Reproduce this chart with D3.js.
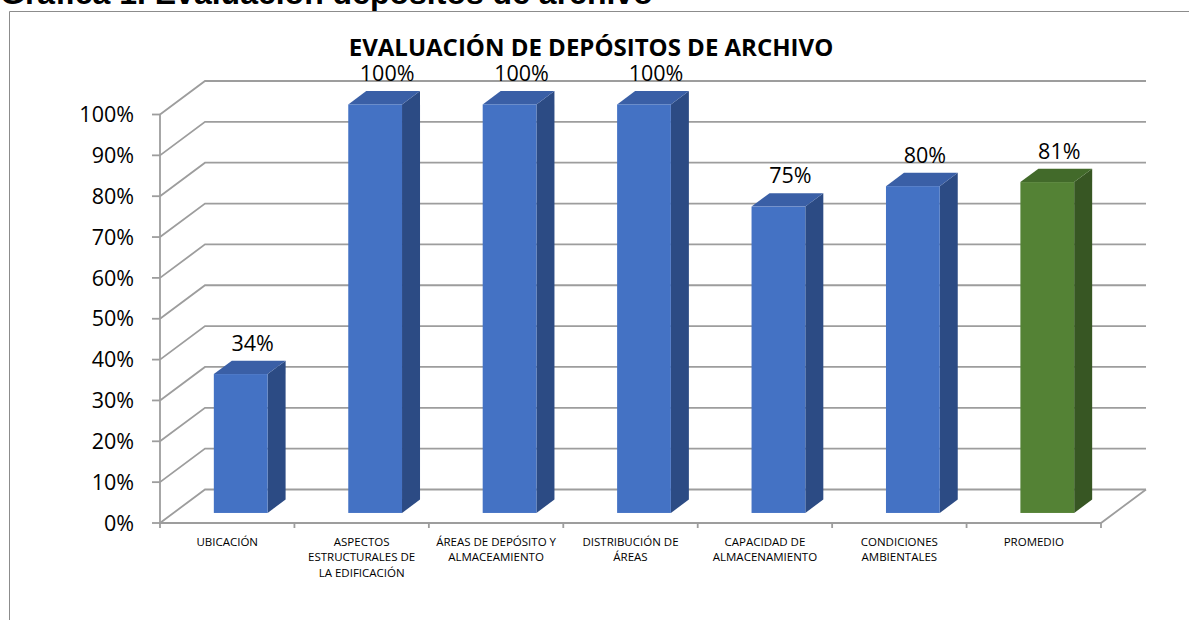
<!DOCTYPE html>
<html>
<head>
<meta charset="utf-8">
<script src="https://cdn.jsdelivr.net/npm/d3@7"></script>
<style>
  body { margin: 0; background: #fff; }
  svg { display: block; }
  text { font-family: "Open Sans", sans-serif; fill: #000; }
</style>
</head>
<body>
<div class="graphic__container"></div>
<script>
// datos
const categories = ['UBICACIÓN', 'ASPECTOS ESTRUCTURALES DE LA EDIFICACIÓN', 'ÁREAS DE DEPÓSITO Y ALMACEAMIENTO',
  'DISTRIBUCIÓN DE ÁREAS', 'CAPACIDAD DE ALMACENAMIENTO', 'CONDICIONES AMBIENTALES', 'PROMEDIO']
const categoryLines = [
  ['UBICACIÓN'],
  ['ASPECTOS', 'ESTRUCTURALES DE', 'LA EDIFICACIÓN'],
  ['ÁREAS DE DEPÓSITO Y', 'ALMACEAMIENTO'],
  ['DISTRIBUCIÓN DE', 'ÁREAS'],
  ['CAPACIDAD DE', 'ALMACENAMIENTO'],
  ['CONDICIONES', 'AMBIENTALES'],
  ['PROMEDIO']
]
const values = [0.34, 1.00, 1.00, 1.00, 0.75, 0.80, 0.81]
const yTicks = [0, 0.1, 0.2, 0.3, 0.4, 0.5, 0.6, 0.7, 0.8, 0.9, 1.0]

const width = 1189
const height = 620

// profundidad 3D
const depthX = 45
const depthY = -33.5
const barFront = 0.3
const barBack = 0.7

const blue = { front: '#4472C4', top: '#3A5FA6', side: '#2C4B84' }
const green = { front: '#548235', top: '#426A2A', side: '#375623' }
const gridColor = '#9d9d9d'

const svg = d3.select('.graphic__container')
  .append('svg')
  .attr('width', width)
  .attr('height', height)

// marco exterior y título del documento (cortado arriba)
svg.append('path')
  .attr('d', 'M9.5,640 L9.5,11.5 L1200,11.5')
  .attr('fill', 'none')
  .attr('stroke', '#8c8c8c')
  .attr('stroke-width', 1)

svg.append('text')
  .attr('x', 0)
  .attr('y', 4)
  .style('font-family', '"Liberation Sans", Arial, sans-serif')
  .style('font-weight', 'bold')
  .style('font-size', '32px')
  .text('Gráfica 1. Evaluación depósitos de archivo')

svg.append('text')
  .attr('x', 591)
  .attr('y', 56)
  .attr('text-anchor', 'middle')
  .style('font-weight', 'bold')
  .style('font-size', '24px')
  .text('EVALUACIÓN DE DEPÓSITOS DE ARCHIVO')

const x = d3.scaleBand()
  .domain(categories)
  .range([160, 1101])
  .paddingInner(0.6)
  .paddingOuter(0.3)

const y = d3.scaleLinear()
  .domain([0, 1])
  .range([523, 114.5])

const x0 = x.range()[0]
const x1 = x.range()[1]
const y0 = y(0)

const grid = svg.append('g').attr('class', 'grid')
  .attr('fill', 'none')
  .attr('stroke', gridColor)
  .attr('stroke-width', 1.8)

// líneas de la pared trasera y lateral
grid.selectAll('.gridline')
  .data(yTicks)
  .enter().append('path')
  .attr('class', 'gridline')
  .attr('d', d => `M${x0},${y(d)} L${x0 + depthX},${y(d) + depthY} L${x1 + depthX},${y(d) + depthY}`)

// suelo
grid.append('path')
  .attr('d', `M${x0},${y0} L${x1},${y0} L${x1 + depthX},${y0 + depthY}`)

// eje vertical
grid.append('line')
  .attr('x1', x0).attr('x2', x0)
  .attr('y1', y(1)).attr('y2', y0)

grid.selectAll('.ytick')
  .data(yTicks)
  .enter().append('line')
  .attr('class', 'ytick')
  .attr('x1', x0 - 8).attr('x2', x0)
  .attr('y1', d => y(d)).attr('y2', d => y(d))

grid.selectAll('.xtick')
  .data(d3.range(categories.length + 1))
  .enter().append('line')
  .attr('class', 'xtick')
  .attr('x1', i => x0 + i * x.step()).attr('x2', i => x0 + i * x.step())
  .attr('y1', y0).attr('y2', y0 + 5)

svg.append('g').attr('class', 'ylabels')
  .selectAll('text')
  .data(yTicks)
  .enter().append('text')
  .attr('x', 134)
  .attr('y', d => y(d))
  .attr('dy', '0.36em')
  .attr('text-anchor', 'end')
  .style('font-size', '21.5px')
  .text(d => d3.format('.0%')(d))

// barras 3D
const bw = x.bandwidth()
const fdx = barFront * depthX
const fdy = barFront * depthY
const bdx = (barBack - barFront) * depthX
const bdy = (barBack - barFront) * depthY

const bars = svg.append('g').attr('class', 'bars')
  .selectAll('g')
  .data(categories.map((c, i) => ({ c, v: values[i], i })))
  .enter().append('g')

function colorOf(d) {
  return d.i === categories.length - 1 ? green : blue
}

bars.append('polygon')
  .attr('points', d => {
    const xl = x(d.c) + fdx + bw
    const yb = y(0) + fdy
    const yt = y(d.v) + fdy
    return [[xl, yb], [xl + bdx, yb + bdy], [xl + bdx, yt + bdy], [xl, yt]].join(' ')
  })
  .attr('fill', d => colorOf(d).side)

bars.append('polygon')
  .attr('points', d => {
    const xl = x(d.c) + fdx
    const yt = y(d.v) + fdy
    return [[xl, yt], [xl + bw, yt], [xl + bw + bdx, yt + bdy], [xl + bdx, yt + bdy]].join(' ')
  })
  .attr('fill', d => colorOf(d).top)

bars.append('rect')
  .attr('x', d => x(d.c) + fdx)
  .attr('y', d => y(d.v) + fdy)
  .attr('width', bw)
  .attr('height', d => y(0) - y(d.v))
  .attr('fill', d => colorOf(d).front)

bars.append('text')
  .attr('x', d => x(d.c) + fdx + bw / 2 + 12)
  .attr('y', d => y(d.v) + fdy + bdy - 10)
  .attr('text-anchor', 'middle')
  .style('font-size', '21.5px')
  .text(d => d3.format('.0%')(d.v))

// etiquetas de categoría
svg.append('g').attr('class', 'xlabels')
  .selectAll('text')
  .data(categoryLines)
  .enter().append('text')
  .attr('text-anchor', 'middle')
  .style('font-size', '11.5px')
  .each(function(lines, i) {
    const cx = x0 + (i + 0.5) * x.step()
    d3.select(this).selectAll('tspan')
      .data(lines)
      .enter().append('tspan')
      .attr('x', cx)
      .attr('y', (l, j) => 545.5 + j * 15.7)
      .text(l => l)
  })
</script>
</body>
</html>
